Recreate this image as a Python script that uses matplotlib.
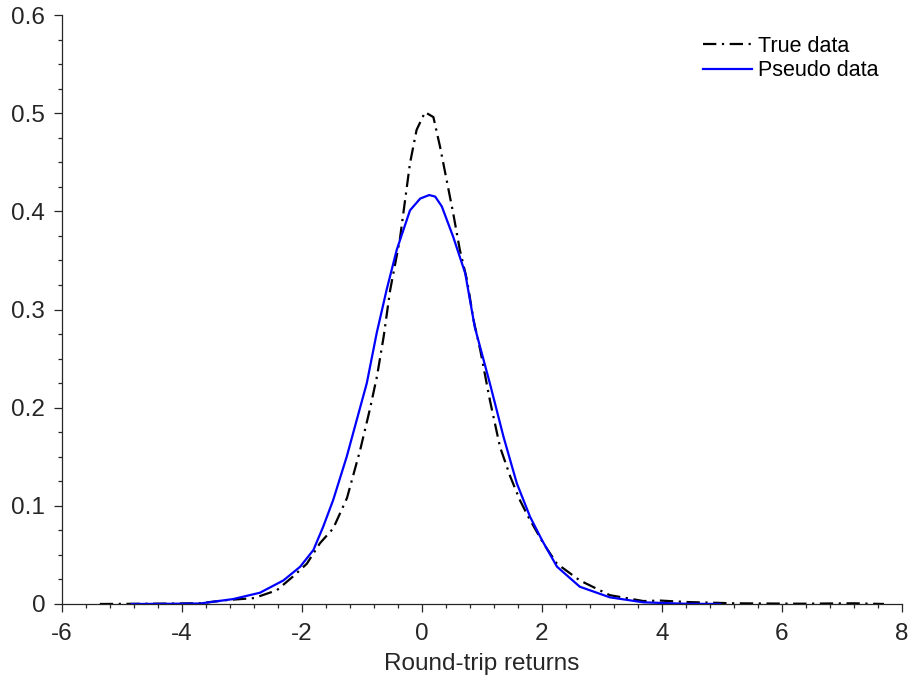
import matplotlib
matplotlib.use("Agg")
import matplotlib.pyplot as plt
from matplotlib.ticker import MultipleLocator

true_x = [-5.37, -4.8, -4.2, -3.7, -3.25, -2.8, -2.42, -2.15, -1.92, -1.7, -1.48, -1.25,
          -1.03, -0.87, -0.75, -0.64, -0.53, -0.37, -0.2, -0.09, 0.05, 0.19, 0.3, 0.41,
          0.52, 0.63, 0.75, 0.86, 0.97, 1.13, 1.3, 1.47, 1.63, 1.77, 2.02, 2.25, 2.63,
          3.13, 3.69, 3.97, 4.42, 5.2, 6.3, 7.2, 7.7]
true_y = [0.0, 0.0002, 0.0004, 0.0008, 0.004, 0.006, 0.014, 0.028, 0.041, 0.062, 0.077, 0.108,
          0.157, 0.198, 0.232, 0.272, 0.320, 0.371, 0.449, 0.483, 0.501, 0.496, 0.466, 0.432,
          0.398, 0.361, 0.330, 0.289, 0.259, 0.208, 0.160, 0.130, 0.106, 0.089, 0.062, 0.041, 0.024,
          0.009, 0.003, 0.0035, 0.002, 0.0007, 0.0003, 0.0007, 0.0]

pseudo_x = [-4.84, -4.2, -3.7, -3.15, -2.7, -2.31, -2.03, -1.81, -1.645, -1.48, -1.255, -0.92,
            -0.755, -0.59, -0.42, -0.2, -0.03, 0.12, 0.22, 0.33, 0.52, 0.72, 0.88, 1.13, 1.36,
            1.58, 1.8, 2.0, 2.25, 2.63, 3.13, 3.69, 4.36, 4.97]
pseudo_y = [0.0, 0.0002, 0.0005, 0.005, 0.0115, 0.024, 0.038, 0.055, 0.079, 0.106, 0.150, 0.225,
            0.276, 0.320, 0.361, 0.401, 0.413, 0.4166, 0.415, 0.405, 0.374, 0.337, 0.282, 0.225, 0.170,
            0.123, 0.089, 0.065, 0.038, 0.0176, 0.0068, 0.0017, 0.0003, 0.0]

series_labels = ["True data", "Pseudo data"]
x_label = "Round-trip returns"

plt.rcParams['font.family'] = ['Liberation Sans', 'DejaVu Sans']
dark = '#262626'

fig = plt.figure(figsize=(9.09, 6.78), dpi=100)
ax = fig.add_axes([62/909, 1 - 604/678, (902-62)/909, (604-15)/678])

ax.plot(true_x, true_y, color='black', lw=1.6, dashes=(6, 2.5, 1, 2.5), label=series_labels[0])
ax.plot(pseudo_x, pseudo_y, color='#0000ff', lw=1.6, label=series_labels[1])

ax.set_xlim(-6, 8)
ax.set_ylim(0, 0.6)
ax.xaxis.set_major_locator(MultipleLocator(2))
ax.xaxis.set_minor_locator(MultipleLocator(0.4))
ax.yaxis.set_major_locator(MultipleLocator(0.1))
ax.yaxis.set_minor_locator(MultipleLocator(0.025))
ax.set_xticks([-6, -4, -2, 0, 2, 4, 6, 8])
ax.set_xticklabels(['-6', '-4', '-2', '0', '2', '4', '6', '8'])
ax.set_yticks([0, 0.1, 0.2, 0.3, 0.4, 0.5, 0.6])
ax.set_yticklabels(['0', '0.1', '0.2', '0.3', '0.4', '0.5', '0.6'])

for s in ['top', 'right']:
    ax.spines[s].set_visible(False)
for s in ['left', 'bottom']:
    ax.spines[s].set_color(dark)
    ax.spines[s].set_linewidth(0.9)

ax.tick_params(which='major', direction='out', length=6, width=0.9, color=dark,
               labelsize=17.5, labelcolor=dark, pad=6)
ax.tick_params(axis='x', which='major', pad=7.5)
ax.tick_params(which='minor', direction='out', length=2.8, width=0.9, color=dark)

ax.set_xlabel(x_label, fontsize=17.5, color=dark, labelpad=6)

leg = ax.legend(loc='upper right', bbox_to_anchor=(879/909, 1 - 36/678),
                bbox_transform=fig.transFigure, frameon=False, fontsize=15.5,
                handlelength=2.3, handletextpad=0.3, borderpad=0, borderaxespad=0,
                labelspacing=0.15)

fig.savefig('out.png', dpi=100)
